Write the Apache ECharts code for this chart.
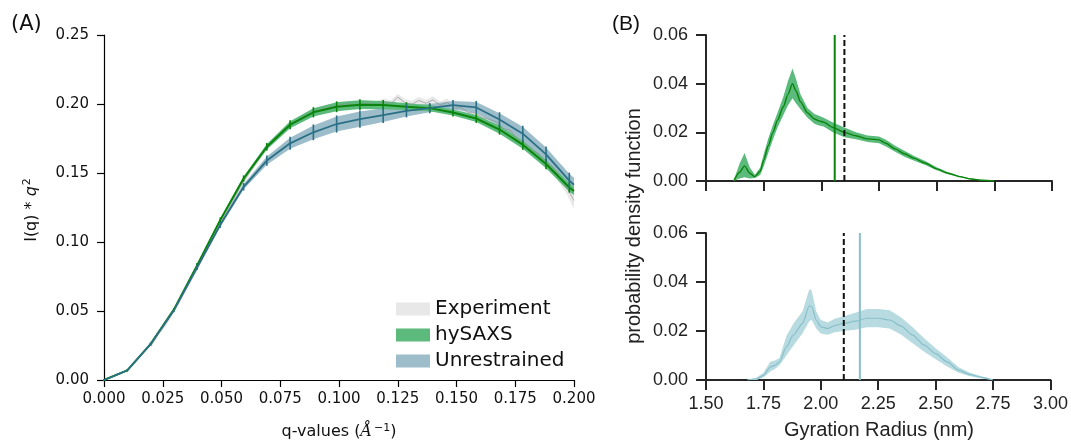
<!DOCTYPE html>
<html>
<head>
<meta charset="utf-8">
<script src="https://cdn.jsdelivr.net/npm/echarts@6/dist/echarts.min.js"></script>
<style>html,body{margin:0;padding:0;background:#fff}#c{width:1071px;height:440px}</style>
</head>
<body>
<div id="c"></div>
<script>
// ---------- Panel A data ----------
const qModel = [0, 0.0099, 0.0198, 0.0297, 0.0396, 0.0495, 0.0594, 0.0693, 0.0792, 0.0891, 0.099, 0.1089, 0.1188, 0.1287, 0.1386, 0.1485, 0.1584, 0.1683, 0.1782, 0.1881, 0.198, 0.2];
const hysaxsI = [0, 0.007, 0.026, 0.051, 0.083, 0.116, 0.146, 0.169, 0.185, 0.194, 0.198, 0.1995, 0.1992, 0.198, 0.197, 0.1938, 0.1895, 0.1815, 0.1705, 0.1565, 0.1395, 0.137];
const hysaxsErr = [0, 0, 0.0003, 0.0005, 0.001, 0.0012, 0.0015, 0.002, 0.0025, 0.003, 0.0032, 0.0032, 0.003, 0.0025, 0.0022, 0.0022, 0.0025, 0.003, 0.003, 0.003, 0.003, 0.003];
const unresI = [0, 0.007, 0.026, 0.0505, 0.0815, 0.1125, 0.140, 0.159, 0.1715, 0.1795, 0.1855, 0.189, 0.192, 0.195, 0.197, 0.1992, 0.1975, 0.1888, 0.1785, 0.1635, 0.1445, 0.1415];
const unresErr = [0, 0, 0.0003, 0.0006, 0.001, 0.0015, 0.002, 0.003, 0.004, 0.005, 0.0055, 0.0055, 0.005, 0.004, 0.003, 0.003, 0.004, 0.0045, 0.005, 0.005, 0.005, 0.005];

const qExp = [0.020,0.023,0.026,0.029,0.032,0.035,0.038,0.041,0.044,0.047,0.050,0.053,0.056,0.059,0.062,0.065,0.068,0.071,0.074,0.077,0.080,0.083,0.086,0.089,0.092,0.095,0.098,0.101,0.104,0.107,0.110,0.113,0.116,0.119,0.122,0.125,0.128,0.131,0.134,0.137,0.140,0.143,0.146,0.149,0.152,0.155,0.158,0.161,0.164,0.167,0.170,0.173,0.176,0.179,0.182,0.185,0.188,0.191,0.194,0.197,0.200];
const expI = [0.025,0.033,0.040,0.0478,0.0565,0.0662,0.0755,0.0850,0.0950,0.1048,0.1148,0.1240,0.1335,0.1428,0.1505,0.1578,0.1652,0.1712,0.1762,0.1815,0.1862,0.1890,0.1918,0.1945,0.1960,0.1975,0.1982,0.1995,0.2003,0.1990,0.2008,0.2002,0.1996,0.2015,0.2001,0.2050,0.2010,0.1998,0.2025,0.2005,0.2030,0.1992,0.2012,0.1968,0.1975,0.1938,0.1935,0.1902,0.1888,0.1870,0.1822,0.1808,0.1742,0.1718,0.1668,0.1640,0.1572,0.1545,0.1468,0.1395,0.1300];
const expErr = [0.0015,0.0015,0.0015,0.0015,0.0015,0.0015,0.0015,0.0015,0.0015,0.0015,0.0015,0.0015,0.0015,0.0015,0.0015,0.0015,0.0018,0.0018,0.0018,0.0018,0.0018,0.002,0.002,0.002,0.002,0.002,0.002,0.0022,0.0022,0.0022,0.0022,0.0022,0.0024,0.0024,0.0024,0.0024,0.0025,0.0025,0.0026,0.0026,0.0027,0.0027,0.0028,0.0028,0.0029,0.003,0.003,0.0031,0.0032,0.0033,0.0034,0.0035,0.0036,0.0037,0.0038,0.004,0.0042,0.0044,0.0046,0.005,0.006];

// ---------- Panel B data ----------
const hyX   = [1.62,1.645,1.667,1.69,1.712,1.735,1.75,1.77,1.79,1.81,1.835,1.855,1.875,1.89,1.91,1.94,1.97,1.99,2.01,2.05,2.10,2.15,2.20,2.25,2.28,2.32,2.36,2.40,2.45,2.50,2.55,2.60,2.65,2.70,2.75];
const hyPdf = [0,0.0035,0.0062,0.0032,0.0018,0.004,0.0085,0.0145,0.020,0.025,0.0305,0.0355,0.040,0.037,0.0325,0.028,0.0255,0.0247,0.0242,0.022,0.020,0.0186,0.0173,0.0169,0.0155,0.0132,0.0112,0.0094,0.0074,0.0050,0.0032,0.0018,0.0008,0.0003,0];
const hyLo  = [0,0.001,0.0015,0.001,0.0012,0.0025,0.006,0.0115,0.017,0.022,0.027,0.031,0.034,0.032,0.0295,0.026,0.0235,0.0228,0.0224,0.020,0.018,0.0172,0.016,0.0155,0.0142,0.012,0.010,0.0084,0.0066,0.0044,0.0028,0.0015,0.0006,0.0002,0];
const hyHi  = [0.0003,0.007,0.0115,0.0055,0.0026,0.0055,0.011,0.0175,0.023,0.028,0.0345,0.041,0.0462,0.042,0.0355,0.030,0.0275,0.0268,0.026,0.024,0.022,0.020,0.0187,0.0183,0.017,0.0145,0.0124,0.0104,0.0082,0.0056,0.0036,0.0021,0.001,0.0004,0];
const unX   = [1.68,1.72,1.75,1.78,1.80,1.82,1.85,1.88,1.92,1.95,1.96,1.98,2.00,2.03,2.06,2.10,2.15,2.20,2.25,2.30,2.35,2.40,2.45,2.50,2.55,2.60,2.65,2.70,2.75];
const unPdf = [0,0.0004,0.0019,0.0053,0.006,0.0074,0.0135,0.0183,0.0231,0.0302,0.030,0.0245,0.0217,0.021,0.0222,0.0231,0.024,0.0252,0.0252,0.0245,0.022,0.0183,0.0142,0.0108,0.0074,0.004,0.0022,0.0011,0];
const unLo  = [0,0,0.001,0.0035,0.0045,0.006,0.010,0.014,0.019,0.024,0.0245,0.021,0.019,0.0185,0.0195,0.020,0.0205,0.0215,0.0215,0.021,0.0185,0.015,0.0115,0.0085,0.0055,0.003,0.0015,0.0006,0];
const unHi  = [0,0.001,0.003,0.0075,0.008,0.009,0.018,0.023,0.028,0.037,0.0365,0.028,0.0245,0.0235,0.025,0.026,0.0275,0.029,0.029,0.0285,0.0255,0.0215,0.017,0.013,0.0093,0.0052,0.003,0.0015,0];
const rgHysaxs = 2.058, rgExp = 2.10, rgUnres = 2.17;
const pdfMax = 0.06;

const xTicksA = [0, 0.2, 0.025];
const yTicksA = [0, 0.25, 0.05];
const xTicksB = [1.5, 3.0, 0.25];
const yTicksB = [0, 0.06, 0.02];

// ---------- colours ----------
const cGreen = '#0a840a', cGreenBand = '#5cba7d';
const cBlue = '#2b7086', cBlueBand = '#9cbdc9';
const cLight = '#89bfca', cLightBand = '#b7dbe1';
const cExpLine = '#8f8f8f', cExpBand = '#e8e8e8';

const FA = 'DejaVu Sans', FB = 'Liberation Sans';

function band(name, xs, lo, hi, color, xi, yi, z) {
  return {
    type: 'custom', name: name, xAxisIndex: xi, yAxisIndex: yi, z: z,
    itemStyle: { color: color }, clip: true, silent: true,
    encode: { x: 0, y: 1 },
    data: [[xs[0], lo[0]]],
    renderItem: function (params, api) {
      const pts = [];
      for (let i = 0; i < xs.length; i++) pts.push(api.coord([xs[i], hi[i]]));
      for (let i = xs.length - 1; i >= 0; i--) pts.push(api.coord([xs[i], lo[i]]));
      return { type: 'polygon', shape: { points: pts }, style: { fill: color } };
    }
  };
}
function addSub(a, b, s) { return a.map((v, i) => v + s * b[i]); }
function pairs(xs, ys) { return xs.map((x, i) => [x, ys[i]]); }

function errBars(name, xs, ys, es, color, z) {
  const d = [];
  for (let i = 0; i < xs.length - 1; i++) d.push([xs[i], ys[i], es[i]]);
  return {
    type: 'custom', name: name, xAxisIndex: 0, yAxisIndex: 0, z: z, silent: true,
    encode: { x: 0, y: 1 }, data: d,
    renderItem: function (params, api) {
      const x = api.value(0), y = api.value(1), e = api.value(2);
      const p1 = api.coord([x, y + e]), p2 = api.coord([x, y - e]);
      return { type: 'line', shape: { x1: p1[0], y1: p1[1] - 1, x2: p2[0], y2: p2[1] + 1 }, style: { stroke: color, lineWidth: 1.6 } };
    }
  };
}

function vline(x, color, dashed, xi, yi) {
  return {
    type: 'line', xAxisIndex: xi, yAxisIndex: yi, z: 10, silent: true, symbol: 'none',
    data: [[x, 0], [x, pdfMax]],
    lineStyle: { color: color, width: 2, type: dashed ? [6, 3] : 'solid' }
  };
}

const axA = { lineStyle: { color: '#000', width: 1.2 } };
const tkA = { show: true, length: 7, lineStyle: { color: '#000', width: 1.2 } };
const axB = { lineStyle: { color: '#262626', width: 2 } };
const tkB = { show: true, length: 10, lineStyle: { color: '#262626', width: 2 } };

const chart = echarts.init(document.getElementById('c'), null, { renderer: 'canvas' });
chart.setOption({
  animation: false,
  backgroundColor: '#fff',
  grid: [
    { left: 104, top: 35, width: 470, height: 345 },
    { left: 706, top: 35, width: 346, height: 146 },
    { left: 706, top: 233, width: 346, height: 147 }
  ],
  xAxis: [
    { gridIndex: 0, type: 'value', min: xTicksA[0], max: xTicksA[1], interval: xTicksA[2],
      axisLine: axA, axisTick: tkA, splitLine: { show: false },
      axisLabel: { margin: 12, fontSize: 15, fontFamily: FA, color: '#111', formatter: v => v.toFixed(3) } },
    { gridIndex: 1, type: 'value', min: xTicksB[0], max: xTicksB[1], interval: xTicksB[2],
      axisLine: axB, axisTick: tkB, splitLine: { show: false }, axisLabel: { show: false } },
    { gridIndex: 2, type: 'value', min: xTicksB[0], max: xTicksB[1], interval: xTicksB[2],
      axisLine: axB, axisTick: tkB, splitLine: { show: false },
      axisLabel: { margin: 15, fontSize: 18, fontFamily: FB, color: '#222', formatter: v => v.toFixed(2) } }
  ],
  yAxis: [
    { gridIndex: 0, type: 'value', min: yTicksA[0], max: yTicksA[1], interval: yTicksA[2],
      axisLine: { show: true, lineStyle: axA.lineStyle }, axisTick: tkA, splitLine: { show: false },
      axisLabel: { margin: 15, fontSize: 15, fontFamily: FA, color: '#111', formatter: v => v.toFixed(2) } },
    { gridIndex: 1, type: 'value', min: yTicksB[0], max: yTicksB[1], interval: yTicksB[2],
      axisLine: { show: true, lineStyle: axB.lineStyle }, axisTick: tkB, splitLine: { show: false },
      axisLabel: { margin: 18, fontSize: 18, fontFamily: FB, color: '#222', formatter: v => v.toFixed(2) } },
    { gridIndex: 2, type: 'value', min: yTicksB[0], max: yTicksB[1], interval: yTicksB[2],
      axisLine: { show: true, lineStyle: axB.lineStyle }, axisTick: tkB, splitLine: { show: false },
      axisLabel: { margin: 18, fontSize: 18, fontFamily: FB, color: '#222', formatter: v => v.toFixed(2) } }
  ],
  legend: {
    left: 391, top: 294, orient: 'vertical', itemWidth: 34, itemHeight: 13, itemGap: 6,
    textStyle: { fontSize: 20, fontFamily: FA, color: '#111', lineHeight: 20 },
    data: [
      { name: 'Experiment', icon: 'rect' },
      { name: 'hySAXS', icon: 'rect' },
      { name: 'Unrestrained', icon: 'rect' }
    ],
    selectedMode: false
  },
  graphic: [
    { type: 'text', left: 11, top: 14, style: { text: '(A)', font: '21px "DejaVu Sans"', fill: '#111' } },
    { type: 'text', left: 612, top: 14, style: { text: '(B)', font: '21px "Liberation Sans"', fill: '#111' } },
    { type: 'text', x: 339, y: 432, style: {
        text: '{n|q-values (}{a|Å}{s|−1}{n|)}', align: 'center', verticalAlign: 'middle',
        rich: { n: { fontSize: 16, fontFamily: FA, fill: '#111' },
                a: { fontSize: 16, fontFamily: 'DejaVu Serif', fontStyle: 'italic', fill: '#111' },
                s: { fontSize: 11, fontFamily: FA, fill: '#111', verticalAlign: 'top', padding: [0, 0, 8, 2] } } } },
    { type: 'text', x: 32, y: 210, rotation: Math.PI / 2, style: {
        text: '{n|I(q) * }{q|q}{s|2}', align: 'center', verticalAlign: 'middle',
        rich: { n: { fontSize: 16, fontFamily: FA, fill: '#111' },
                q: { fontSize: 16, fontFamily: 'DejaVu Sans', fontStyle: 'italic', fill: '#111' },
                s: { fontSize: 11, fontFamily: FA, fill: '#111', padding: [0, 0, 9, 1] } } } },
    { type: 'text', x: 634, y: 226, rotation: Math.PI / 2, style: {
        text: 'probability density function', align: 'center', verticalAlign: 'middle',
        font: '20px "Liberation Sans"', fill: '#222' } },
    { type: 'text', x: 879, y: 430, style: {
        text: 'Gyration Radius (nm)', align: 'center', verticalAlign: 'middle',
        font: '20px "Liberation Sans"', fill: '#222' } }
  ],
  series: [
    // Panel A
    band('Experiment', qExp, addSub(expI, expErr, -1), addSub(expI, expErr, 1), cExpBand, 0, 0, 1),
    band('Unrestrained', qModel, addSub(unresI, unresErr, -1), addSub(unresI, unresErr, 1), cBlueBand, 0, 0, 2),
    band('hySAXS', qModel, addSub(hysaxsI, hysaxsErr, -1), addSub(hysaxsI, hysaxsErr, 1), cGreenBand, 0, 0, 3),
    { type: 'line', name: 'expLine', xAxisIndex: 0, yAxisIndex: 0, z: 4, symbol: 'none', silent: true,
      data: pairs(qExp, expI), lineStyle: { color: cExpLine, width: 0.9, opacity: 0.75 } },
    { type: 'line', name: 'hyLine', xAxisIndex: 0, yAxisIndex: 0, z: 5, symbol: 'none', silent: true,
      data: pairs(qModel, hysaxsI), lineStyle: { color: cGreen, width: 2 } },
    { type: 'line', name: 'unLine', xAxisIndex: 0, yAxisIndex: 0, z: 6, symbol: 'none', silent: true,
      data: pairs(qModel, unresI), lineStyle: { color: cBlue, width: 1.8 } },
    errBars('hyErr', qModel, hysaxsI, hysaxsErr, cGreen, 7),
    errBars('unErr', qModel, unresI, unresErr, cBlue, 7),
    // Panel B top
    band('hyPdfBand', hyX, hyLo, hyHi, cGreenBand, 1, 1, 2),
    { type: 'line', name: 'hyPdf', xAxisIndex: 1, yAxisIndex: 1, z: 5, symbol: 'none', silent: true,
      smooth: 0.25, smoothMonotone: 'x', data: pairs(hyX, hyPdf), lineStyle: { color: cGreen, width: 1.4 } },
    vline(rgHysaxs, cGreen, false, 1, 1),
    vline(rgExp, '#111', true, 1, 1),
    // Panel B bottom
    band('unPdfBand', unX, unLo, unHi, cLightBand, 2, 2, 2),
    { type: 'line', name: 'unPdf', xAxisIndex: 2, yAxisIndex: 2, z: 5, symbol: 'none', silent: true,
      smooth: 0.25, smoothMonotone: 'x', data: pairs(unX, unPdf), lineStyle: { color: cLight, width: 1.2 } },
    vline(rgExp, '#111', true, 2, 2),
    vline(rgUnres, cLight, false, 2, 2)
  ]
});
</script>
</body>
</html>
